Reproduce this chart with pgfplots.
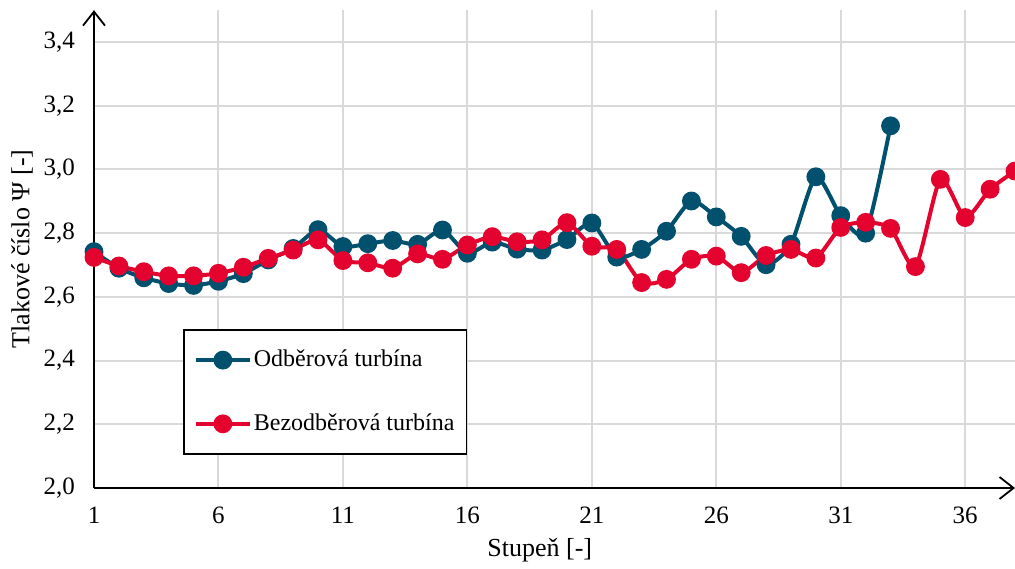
\documentclass[border=0pt]{standalone}
\usepackage{fontspec}
\setmainfont{Liberation Serif}
\usepackage{pgfplots}
\pgfplotsset{compat=1.18}
\usetikzlibrary{arrows.meta}
\definecolor{cblue}{HTML}{00506E}
\definecolor{cred}{HTML}{E4032E}
\definecolor{cgrid}{HTML}{D9D9D9}
\begin{document}
\begin{tikzpicture}
\useasboundingbox (-47pt,-40pt) rectangle (460.5pt,244pt);
\begin{axis}[
  scale only axis, width=460.5pt, height=238.9pt,
  xmin=1, xmax=38, ymin=2, ymax=3.5,
  axis lines=left,
  axis line style={line width=0.9pt, -{Straight Barb[length=7pt,width=11pt,line width=0.9pt]}},
  xtick={1,6,11,16,21,26,31,36},
  ytick={2.0,2.2,2.4,2.6,2.8,3.0,3.2,3.4},
  grid=major, major grid style={cgrid, line width=1pt},
  major tick length=0pt,
  tick label style={font=\fontsize{12.5}{15}\selectfont},
  /pgf/number format/assume math mode=true,
  yticklabel style={xshift=-6pt, /pgf/number format/fixed, /pgf/number format/fixed zerofill, /pgf/number format/precision=1, /pgf/number format/use comma},
  xticklabel style={yshift=-6pt},
  xlabel={Stupeň [-]}, ylabel={Tlakové číslo Ψ [-]},
  label style={font=\fontsize{13}{15}\selectfont},
  xlabel style={at={(axis description cs:0.484,-0.131)}, anchor=center},
  ylabel style={at={(axis description cs:-0.078,0.5)}, anchor=center},
  legend cell align=left,
  legend style={at={(axis description cs:0.0966,0.332)}, anchor=north west,
    draw=black, line width=0.9pt, fill=white, inner xsep=5pt, inner ysep=9pt,
    row sep=20pt, font=\fontsize{12}{14}\selectfont, nodes={inner sep=1pt}},
  legend image code/.code={\draw[mark repeat=2,mark phase=2,#1] plot coordinates {(0pt,0pt)(13.5pt,0pt)(27pt,0pt)};},
]
\addplot[cblue, line width=2pt, smooth, tension=0.4, mark=*, mark size=3.7pt, mark options={solid}] coordinates {
(1,2.742)(2,2.690)(3,2.660)(4,2.642)(5,2.636)(6,2.649)(7,2.673)(8,2.716)(9,2.752)(10,2.811)
(11,2.758)(12,2.767)(13,2.777)(14,2.765)(15,2.810)(16,2.737)(17,2.772)(18,2.750)(19,2.747)(20,2.780)
(21,2.832)(22,2.725)(23,2.749)(24,2.806)(25,2.901)(26,2.851)(27,2.790)(28,2.701)(29,2.765)(30,2.977)
(31,2.855)(32,2.800)(33,3.137)};
\addlegendentry{Odběrová turbína}
\addplot[cred, line width=2pt, smooth, tension=0.4, mark=*, mark size=3.7pt, mark options={solid}] coordinates {
(1,2.724)(2,2.697)(3,2.679)(4,2.666)(5,2.666)(6,2.674)(7,2.693)(8,2.721)(9,2.747)(10,2.779)
(11,2.714)(12,2.707)(13,2.690)(14,2.735)(15,2.718)(16,2.763)(17,2.789)(18,2.773)(19,2.779)(20,2.833)
(21,2.759)(22,2.749)(23,2.645)(24,2.655)(25,2.718)(26,2.728)(27,2.676)(28,2.730)(29,2.749)(30,2.722)
(31,2.818)(32,2.834)(33,2.815)(34,2.695)(35,2.969)(36,2.849)(37,2.938)(38,2.995)};
\addlegendentry{Bezodběrová turbína}
\end{axis}
\end{tikzpicture}
\end{document}
